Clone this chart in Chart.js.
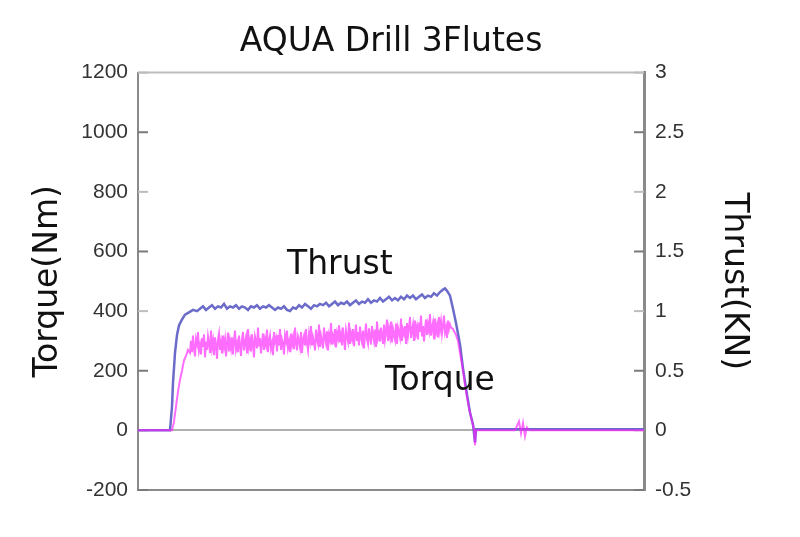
<!DOCTYPE html>
<html>
<head>
<meta charset="utf-8">
<script src="https://cdn.jsdelivr.net/npm/chart.js@4/dist/chart.umd.min.js"></script>
<style>
html,body{margin:0;padding:0;background:#fff;}
#wrap{width:800px;height:537px;position:relative;}
</style>
</head>
<body>
<div id="wrap"><canvas id="c"></canvas></div>
<script>
// ---- data (time in sample units, torque in Nm, thrust in kN) ----
const chartTitle = 'AQUA Drill 3Flutes';
const torqueTicks = [-200, 0, 200, 400, 600, 800, 1000, 1200];
const thrustTicks = [-0.5, 0, 0.5, 1, 1.5, 2, 2.5, 3];

const thrustSamples = [
 [0,0],[32,0],[34,0.2],[35,0.4],[37,0.65],[39,0.8],[41,0.88],[44,0.93],[47,0.97],[51,0.99],[55,1.01],[59,1.0],
 [62,1.02],[65,1.04],[68,1.01],[71,1.03],[74,1.05],[77,1.02],[80,1.04],[83,1.03],[86,1.06],[89,1.02],
 [92,1.04],[95,1.03],[98,1.05],[101,1.02],[104,1.04],[107,1.03],[110,1.01],[113,1.04],[116,1.03],[119,1.05],
 [122,1.02],[125,1.04],[128,1.03],[131,1.05],[134,1.03],[137,1.01],[140,1.03],[143,1.02],[146,1.04],[149,1.01],
 [152,1.0],[155,1.03],[158,1.02],[161,1.05],[164,1.03],[167,1.06],[170,1.04],[173,1.02],[176,1.05],[179,1.04],
 [182,1.06],[185,1.05],[188,1.07],[191,1.04],[194,1.06],[197,1.08],[200,1.05],[203,1.07],[206,1.06],[209,1.08],
 [212,1.05],[215,1.07],[218,1.09],[221,1.06],[224,1.08],[227,1.07],[230,1.1],[233,1.07],[236,1.09],[239,1.08],
 [242,1.11],[245,1.08],[248,1.1],[251,1.12],[254,1.09],[257,1.11],[260,1.09],[263,1.12],[266,1.1],[269,1.13],
 [272,1.11],[275,1.13],[278,1.1],[281,1.12],[284,1.14],[287,1.11],[290,1.13],[293,1.12],[296,1.15],[299,1.13],
 [302,1.16],[305,1.18],[307,1.19],[309,1.17],[312,1.13],[315,1.02],[318,0.9],[322,0.72],[325,0.52],[329,0.3],
 [332,0.15],[335,0.05],[337,-0.1],[338,0.01],[506,0.01]
];

// torque: run-in, then one sample per time unit from torquePlateauStart, then run-out
const torqueRise = [[0,0],[34,0],[36,30],[38,80],[40,130],[42,170],[44,200],[46,235],[48,250],[50,270],[52,260]];
const torquePlateauStart = 53;
const torquePlateau = [
 300,262,318,275,248,305,290,330,268,285,
 255,310,280,322,245,298,270,315,292,260,
 335,278,300,252,312,288,240,305,325,270,
 295,258,318,282,305,248,290,328,265,300,
 276,312,255,298,335,272,290,262,318,285,
 250,305,330,268,295,312,258,340,280,300,
 265,322,290,245,315,300,275,345,282,310,
 258,295,325,270,305,288,338,262,300,318,
 275,292,252,330,298,310,265,320,285,340,
 270,305,292,255,318,300,335,278,296,262,
 325,288,310,272,345,295,268,315,302,280,
 330,260,305,318,285,340,292,270,322,300,
 350,285,312,295,268,338,305,290,355,280,
 318,300,275,345,310,292,332,268,320,305,
 360,288,315,300,340,278,325,310,352,295,
 320,285,345,305,270,335,315,298,362,290,
 325,308,340,282,318,355,300,330,285,348,
 312,296,335,275,320,358,305,290,342,315,
 288,350,322,300,338,280,365,310,325,298,
 345,318,290,355,305,330,372,300,338,315,
 365,295,340,322,305,358,290,345,330,312,
 375,300,338,325,350,290,360,318,345,380,
 310,335,355,300,368,325,345,305,362,330,
 385,315,350,298,340,372,320,355,335,390,
 318,345,362,305,375,330,350,312,380,338,
 365,325,352,385,330,345,310,368,340,355,
 345
];
const torqueFall = [
 [315,340],[318,320],[320,300],[322,260],[325,200],[328,130],[331,75],[334,30],[336,5],[337,-50],[338,0],
 [377,0],[379,15],[381,30],[383,-10],[385,25],[387,-20],[389,10],[391,0],[506,0]
];

const seriesLabels = [
 {text:'Thrust', x:149, y:523},
 {text:'Torque', x:247, y:137}
];

const torqueSamples = torqueRise
  .concat(torquePlateau.map((v, i) => [torquePlateauStart + i, v]))
  .concat(torqueFall);

// ---- plugins ----
const framePlugin = {
  id: 'frame',
  beforeDatasetsDraw(chart) {
    const {ctx, chartArea: a, scales} = chart;
    ctx.save();
    const line = (x1, y1, x2, y2) => { ctx.beginPath(); ctx.moveTo(x1, y1); ctx.lineTo(x2, y2); ctx.stroke(); };
    ctx.lineWidth = 2;
    ctx.strokeStyle = '#bdbdbd';
    line(a.left, a.top, a.right, a.top);
    ctx.strokeStyle = '#8a8a8a';
    line(a.left, a.bottom, a.right, a.bottom);
    scales.yL.ticks.forEach((t, i) => {
      const y = scales.yL.getPixelForValue(t.value);
      ctx.strokeStyle = (i % 2) ? '#bdbdbd' : '#7a7a7a';
      line(a.left, y, a.left + 10, y);
    });
    scales.yR.ticks.forEach((t, i) => {
      const y = scales.yR.getPixelForValue(t.value);
      ctx.strokeStyle = (i % 2) ? '#bdbdbd' : '#7a7a7a';
      line(a.right - 10, y, a.right, y);
    });
    ctx.restore();
  },
  afterDatasetsDraw(chart) {
    const {ctx, scales} = chart;
    ctx.save();
    ctx.font = '33px "DejaVu Sans"';
    ctx.fillStyle = '#111';
    ctx.textBaseline = 'alphabetic';
    ctx.textAlign = 'left';
    seriesLabels.forEach(l => {
      ctx.fillText(l.text, scales.x.getPixelForValue(l.x), scales.yL.getPixelForValue(l.y));
    });
    ctx.restore();
  }
};

const tickFont = {family: "'Liberation Sans Narrow', 'Liberation Sans', sans-serif", size: 21};

new Chart(document.getElementById('c'), {
  type: 'line',
  data: {
    datasets: [
      {
        label: 'Torque',
        data: torqueSamples.map(p => ({x: p[0], y: p[1]})),
        yAxisID: 'yL',
        borderColor: 'rgba(255,30,255,0.65)',
        borderWidth: 2,
        pointRadius: 0,
        tension: 0
      },
      {
        label: 'Thrust',
        data: thrustSamples.map(p => ({x: p[0], y: p[1]})),
        yAxisID: 'yR',
        borderColor: '#6b6bc9',
        borderWidth: 2.5,
        pointRadius: 0,
        tension: 0
      }
    ]
  },
  options: {
    responsive: true,
    maintainAspectRatio: false,
    animation: false,
    layout: {padding: {left: 0, right: 0, top: 0, bottom: 47}},
    plugins: {
      legend: {display: false},
      tooltip: {enabled: false},
      title: {
        display: true,
        fullSize: false,
        text: chartTitle,
        color: '#111',
        font: {family: "'DejaVu Sans'", size: 33, weight: 'normal', lineHeight: 1.2},
        padding: {top: 23, bottom: 10}
      }
    },
    scales: {
      x: {type: 'linear', min: 0, max: 506, display: false},
      yL: {
        position: 'left',
        min: torqueTicks[0], max: torqueTicks[torqueTicks.length - 1],
        afterBuildTicks: s => { s.ticks = torqueTicks.map(v => ({value: v})); },
        afterFit: s => { s.width = 138; },
        ticks: {color: '#333', font: tickFont, padding: 10, callback: v => String(v)},
        grid: {
          drawTicks: false,
          lineWidth: 2,
          color: c => (c.tick && c.tick.value === 0) ? '#b0b0b0' : 'rgba(0,0,0,0)'
        },
        border: {display: true, color: '#8a8a8a', width: 2},
        title: {
          display: true, text: 'Torque(Nm)', color: '#111',
          font: {family: "'DejaVu Sans'", size: 33, lineHeight: 1.2},
          padding: {top: 29, bottom: 0}
        }
      },
      yR: {
        position: 'right',
        min: thrustTicks[0], max: thrustTicks[thrustTicks.length - 1],
        afterBuildTicks: s => { s.ticks = thrustTicks.map(v => ({value: v})); },
        afterFit: s => { s.width = 156; },
        ticks: {color: '#333', font: tickFont, padding: 11, callback: v => String(v)},
        grid: {display: false, drawTicks: false},
        border: {display: true, color: '#8a8a8a', width: 3},
        title: {
          display: true, text: 'Thrust(KN)', color: '#111',
          font: {family: "'DejaVu Sans'", size: 33, lineHeight: 1.2},
          padding: {top: 47, bottom: 0}
        }
      }
    }
  },
  plugins: [framePlugin]
});
</script>
</body>
</html>
